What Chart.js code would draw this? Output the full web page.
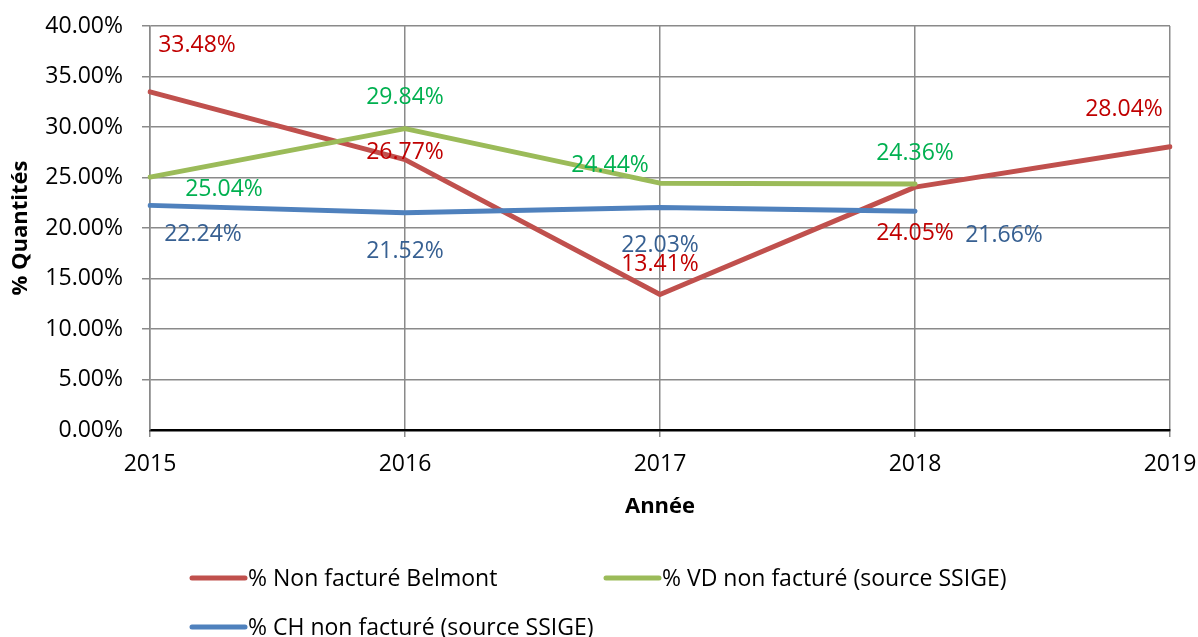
<!DOCTYPE html>
<html>
<head>
<meta charset="utf-8">
<script src="https://cdn.jsdelivr.net/npm/chart.js@4"></script>
<style>
    body { margin: 0; background: #fff; }
    #wrap { position: relative; width: 1198px; height: 637px; }
</style>
</head>
<body>
<div id="wrap"><canvas id="lineChart"></canvas></div>
<script>
// Chart data
const years = ['2015', '2016', '2017', '2018', '2019'];
const belmont = [33.48, 26.77, 13.41, 24.05, 28.04];
const vdSsige = [25.04, 29.84, 24.44, 24.36, null];
const chSsige = [22.24, 21.52, 22.03, 21.66, null];
const seriesNames = [
    '% Non facturé Belmont',
    '% VD non facturé (source SSIGE)',
    '% CH non facturé (source SSIGE)'
];

// Label placement (pixel shifts from each point, like the manual Excel labels)
const labelShift = [
    [[47, -46], [0, -7], [0, -30], [0, 46], [-46, -37]],
    [[74, 12], [0, -31], [-50, -18], [0, -31]],
    [[53, 29], [0, 39], [0, 38], [89, 24]]
];
const labelColors = ['#C00000', '#00B050', '#376092'];
const lineColors = ['#C0504D', '#9BBB59', '#4F81BD'];

const FONT = '"Open Sans", sans-serif';

// Draw value labels next to points
const valueLabels = {
    id: 'valueLabels',
    afterDatasetsDraw(chart) {
        const ctx = chart.ctx;
        ctx.save();
        ctx.font = '23px ' + FONT;
        ctx.textAlign = 'center';
        ctx.textBaseline = 'middle';
        chart.data.datasets.forEach((ds, i) => {
            const meta = chart.getDatasetMeta(i);
            meta.data.forEach((pt, j) => {
                const v = ds.data[j];
                if (v === null || v === undefined) return;
                const shift = labelShift[i][j] || [0, 0];
                ctx.fillStyle = labelColors[i];
                ctx.fillText(v.toFixed(2) + '%', pt.x + shift[0], pt.y + shift[1]);
            });
        });
        ctx.restore();
    }
};

// Legend drawn below the axis, two items per row
const bottomLegend = {
    id: 'bottomLegend',
    afterDraw(chart) {
        const ctx = chart.ctx;
        const spots = [[190, 579], [604, 579], [190, 628]];
        ctx.save();
        ctx.font = '23px ' + FONT;
        ctx.textBaseline = 'middle';
        ctx.lineCap = 'round';
        chart.data.datasets.forEach((ds, i) => {
            const [x, y] = spots[i];
            ctx.strokeStyle = ds.borderColor;
            ctx.lineWidth = 5;
            ctx.beginPath();
            ctx.moveTo(x + 2, y - 1);
            ctx.lineTo(x + 55, y - 1);
            ctx.stroke();
            ctx.fillStyle = '#000';
            ctx.fillText(ds.label, x + 58, y);
        });
        ctx.restore();
    }
};

const ctx = document.getElementById('lineChart').getContext('2d');
const lineChart = new Chart(ctx, {
    type: 'line',
    data: {
        labels: years,
        datasets: [{
            label: seriesNames[0],
            data: belmont,
            borderColor: lineColors[0],
            order: 3
        }, {
            label: seriesNames[1],
            data: vdSsige,
            borderColor: lineColors[1],
            order: 2
        }, {
            label: seriesNames[2],
            data: chSsige,
            borderColor: lineColors[2],
            order: 1
        }]
    },
    options: {
        responsive: true,
        maintainAspectRatio: false,
        animation: false,
        layout: {
            padding: { top: 26, right: 28, bottom: 117, left: 0 }
        },
        elements: {
            line: { borderWidth: 5, tension: 0, borderJoinStyle: 'round', borderCapStyle: 'round' },
            point: { radius: 0, hoverRadius: 0 }
        },
        plugins: {
            legend: { display: false },
            tooltip: { enabled: false }
        },
        scales: {
            x: {
                offset: false,
                grid: { color: '#8a8a8a', lineWidth: 1.5, tickLength: 7 },
                border: { color: '#000', width: 2.5 },
                ticks: {
                    color: '#000',
                    padding: 14,
                    maxRotation: 0,
                    font: { family: FONT, size: 23 }
                },
                title: {
                    display: true,
                    text: 'Année',
                    color: '#000',
                    padding: { top: 0, bottom: 0 },
                    font: { family: FONT, size: 22, weight: 'bold' }
                },
                afterFit(scale) {
                    scale.height = 90;
                    scale.paddingLeft = 0;
                    scale.paddingRight = 0;
                }
            },
            y: {
                min: 0,
                max: 40,
                grid: {
                    color: (c) => c.tick && c.tick.value === 0 ? 'rgba(0,0,0,0)' : '#8a8a8a',
                    lineWidth: 1.5,
                    tickLength: 8
                },
                border: { color: '#8a8a8a', width: 1.5 },
                ticks: {
                    stepSize: 5,
                    color: '#000',
                    padding: 19,
                    font: { family: FONT, size: 23 },
                    callback: (v) => v.toFixed(2) + '%'
                },
                title: {
                    display: true,
                    text: '% Quantités',
                    color: '#000',
                    padding: { top: 8, bottom: 0 },
                    font: { family: FONT, size: 22, weight: 'bold' }
                },
                afterFit(scale) {
                    scale.width = 150;
                    scale.paddingTop = 0;
                    scale.paddingBottom = 0;
                }
            }
        }
    },
    plugins: [valueLabels, bottomLegend]
});
</script>
</body>
</html>
